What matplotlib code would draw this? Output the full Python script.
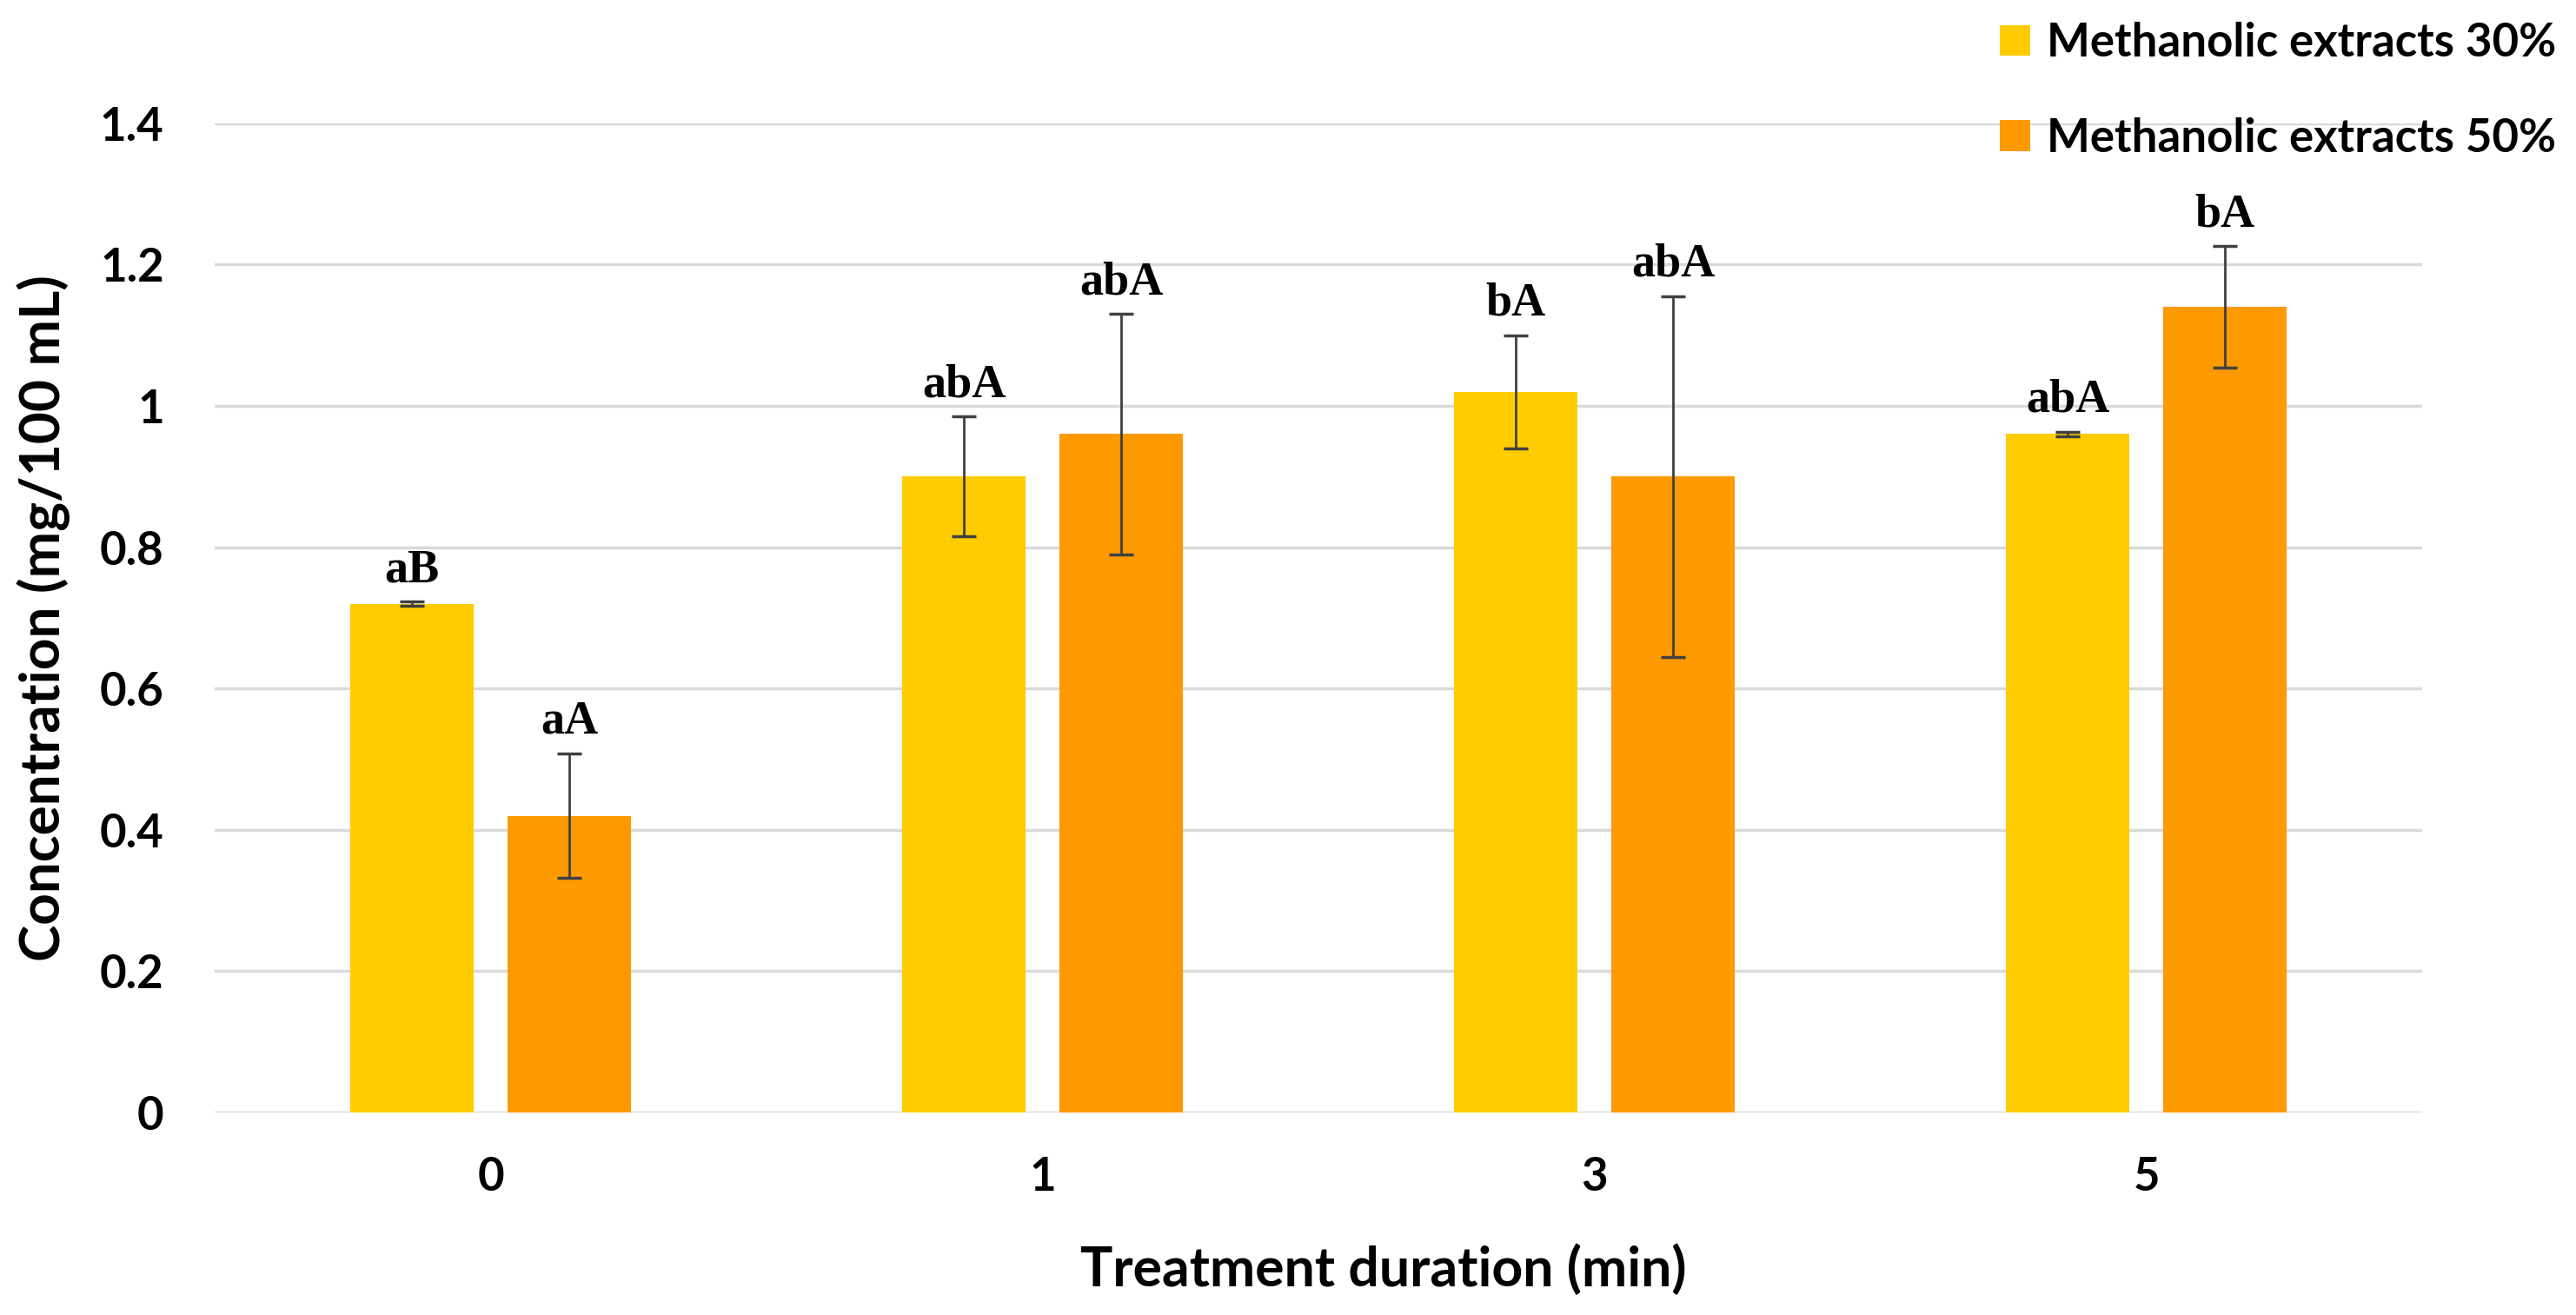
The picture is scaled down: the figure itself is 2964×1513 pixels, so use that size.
import numpy as np
from matplotlib import pyplot as plt


# --------------- data ---------------

durations = ['0', '1', '3', '5']

extract_30 = [0.72, 0.90, 1.02, 0.96]
extract_30_err = [0.003, 0.085, 0.080, 0.003]
extract_30_letters = ['aB', 'abA', 'bA', 'abA']

extract_50 = [0.42, 0.96, 0.90, 1.14]
extract_50_err = [0.088, 0.170, 0.255, 0.086]
extract_50_letters = ['aA', 'abA', 'abA', 'bA']

series_names = ['Methanolic extracts 30%', 'Methanolic extracts 50%']
colors = ['#FFCC00', '#FF9900']

# --------------- grouped bar chart ---------------

W, H = 2964, 1513
fig = plt.figure(figsize=(W / 100, H / 100), dpi=100)
ax = fig.add_axes([247 / W, (H - 1280) / H, 2540 / W, (1280 - 141.7) / H])

x = np.arange(len(durations))
bar_w = 0.225
offset = 0.1425

series = [
    (extract_30, extract_30_err, extract_30_letters),
    (extract_50, extract_50_err, extract_50_letters),
]
handles = []
for i, (vals, errs, letters) in enumerate(series):
    pos = x + (-offset if i == 0 else offset)
    b = ax.bar(pos, vals, width=bar_w, color=colors[i], zorder=2)
    handles.append(b)
    ax.errorbar(pos, vals, yerr=errs, fmt='none', ecolor='#404040',
                elinewidth=2, capsize=10, capthick=2.5, zorder=3)
    for px, v, e, lab in zip(pos, vals, errs, letters):
        ax.annotate(lab, (px, v + e), xytext=(0, 8), textcoords='offset points',
                    ha='center', va='bottom', fontsize=39, fontweight='bold',
                    family='Liberation Serif', color='black')

ax.set_xlim(-0.5, len(durations) - 0.5)
ax.set_ylim(0, 1.4)
ax.set_yticks(np.arange(0, 1.41, 0.2))
ax.set_yticklabels(['0', '0.2', '0.4', '0.6', '0.8', '1', '1.2', '1.4'])
ax.set_xticks(x)
ax.set_xticklabels(durations)

ax.grid(axis='y', color='#D9D9D9', linewidth=2.5, zorder=0)
ax.set_axisbelow(True)
for s in ax.spines.values():
    s.set_visible(False)

ax.tick_params(axis='both', length=0, labelsize=38)
ax.tick_params(axis='y', pad=42)
ax.tick_params(axis='x', pad=36)
for t in ax.get_xticklabels() + ax.get_yticklabels():
    t.set_fontfamily('Lato')
    t.set_fontweight('bold')

fig.text(50 / W, 1 - 711 / H, 'Concentration (mg/100 mL)', rotation=90,
         ha='center', va='center', fontsize=46, fontweight='bold', family='Lato')
fig.text(1592 / W, 33 / H, 'Treatment duration (min)', ha='center',
         va='baseline', fontsize=45, fontweight='bold', family='Lato')

fig.legend(handles, series_names, loc='upper right',
           bbox_to_anchor=(2962 / W, 1 - 4 / H), frameon=False,
           prop={'family': 'Lato', 'weight': 'bold', 'size': 38},
           handlelength=0.66, handleheight=0.66, handletextpad=0.35,
           labelspacing=1.15, borderaxespad=0)

fig.savefig('out.png', dpi=100, facecolor='white')
